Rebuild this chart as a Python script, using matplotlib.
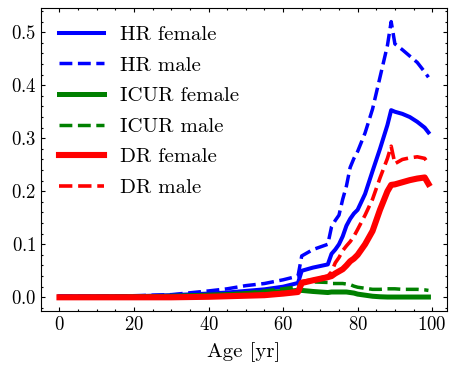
import numpy as np
import matplotlib
matplotlib.use('Agg')
import matplotlib.pyplot as plt
from matplotlib.ticker import MultipleLocator

ages = [0, 10, 20, 30, 40, 45, 50, 55, 60, 64, 65, 68, 72, 73, 74, 75, 76, 77, 78, 79, 80,
        82, 84, 86, 88, 89, 90, 92, 94, 96, 98, 99]

hr_female = [0.002, 0.002, 0.002, 0.004, 0.007, 0.009, 0.012, 0.015, 0.020, 0.027, 0.050, 0.056,
             0.062, 0.082, 0.090, 0.100, 0.115, 0.135, 0.148, 0.158, 0.165, 0.195, 0.238, 0.280,
             0.325, 0.353, 0.350, 0.346, 0.340, 0.331, 0.320, 0.311]
hr_male = [0.002, 0.002, 0.003, 0.005, 0.012, 0.016, 0.022, 0.026, 0.033, 0.040, 0.078, 0.090,
           0.100, 0.133, 0.145, 0.155, 0.185, 0.210, 0.245, 0.262, 0.275, 0.310, 0.355, 0.415,
           0.475, 0.520, 0.478, 0.467, 0.455, 0.443, 0.425, 0.415]
icur_female = [0.0, 0.0005, 0.001, 0.002, 0.004, 0.005, 0.007, 0.009, 0.011, 0.013, 0.013, 0.011,
               0.009, 0.010, 0.010, 0.010, 0.010, 0.010, 0.009, 0.008, 0.006, 0.004, 0.002, 0.001,
               0.0005, 0.0005, 0.0005, 0.0005, 0.0005, 0.0005, 0.0005, 0.0005]
icur_male = [0.0, 0.001, 0.001, 0.002, 0.005, 0.006, 0.008, 0.012, 0.016, 0.020, 0.028, 0.029,
             0.028, 0.026, 0.026, 0.026, 0.026, 0.025, 0.024, 0.021, 0.019, 0.017, 0.015, 0.015,
             0.016, 0.016, 0.016, 0.015, 0.015, 0.015, 0.014, 0.013]
dr_female = [0.0, 0.0, 0.0, 0.0, 0.001, 0.002, 0.003, 0.004, 0.007, 0.010, 0.027, 0.032,
             0.038, 0.040, 0.045, 0.049, 0.053, 0.060, 0.068, 0.073, 0.080, 0.100, 0.125, 0.165,
             0.200, 0.212, 0.213, 0.217, 0.221, 0.224, 0.226, 0.214]
dr_male = [0.0, 0.0, 0.0, 0.0, 0.002, 0.003, 0.004, 0.006, 0.009, 0.012, 0.030, 0.033,
           0.040, 0.048, 0.065, 0.075, 0.088, 0.097, 0.105, 0.115, 0.128, 0.155, 0.185, 0.225,
           0.262, 0.285, 0.252, 0.260, 0.263, 0.265, 0.262, 0.252]

# Serif, LaTeX-like look
plt.rcParams['font.family'] = ['cmr10', 'DejaVu Serif']
plt.rcParams['mathtext.fontset'] = 'cm'
plt.rcParams['axes.formatter.use_mathtext'] = True
plt.rcParams['font.size'] = 13.5
plt.rcParams['axes.linewidth'] = 0.8
for ax_name in ['xtick', 'ytick']:
    plt.rcParams[ax_name + '.direction'] = 'in'
    plt.rcParams[ax_name + '.major.size'] = 3
    plt.rcParams[ax_name + '.minor.size'] = 1.5
    plt.rcParams[ax_name + '.major.width'] = 0.8
    plt.rcParams[ax_name + '.minor.width'] = 0.8
    plt.rcParams[ax_name + '.minor.visible'] = True
plt.rcParams['xtick.top'] = True
plt.rcParams['ytick.right'] = True

fig = plt.figure(figsize=(4.56, 3.73), dpi=100)
ax = fig.add_axes([0.09, 0.166, 0.89, 0.813])

ax.plot(ages, hr_female, c='blue', lw=2.9, label='HR female')
ax.plot(ages, hr_male, c='blue', lw=2.5, ls='--', label='HR male')
ax.plot(ages, icur_female, c='green', lw=3.6, label='ICUR female')
ax.plot(ages, icur_male, c='green', lw=2.5, ls='--', label='ICUR male')
ax.plot(ages, dr_female, c='red', lw=4.4, label='DR female')
ax.plot(ages, dr_male, c='red', lw=2.6, ls='--', label='DR male')

ax.xaxis.set_minor_locator(MultipleLocator(5))
ax.yaxis.set_major_locator(MultipleLocator(0.1))
ax.yaxis.set_minor_locator(MultipleLocator(0.02))
ax.set_xlabel('Age [yr]', fontsize=15, labelpad=6)
ax.legend(loc='upper left', frameon=False, fontsize=15, handlelength=2.15,
          labelspacing=0.575, borderaxespad=0.45)

fig.savefig('out.png', dpi=100)
